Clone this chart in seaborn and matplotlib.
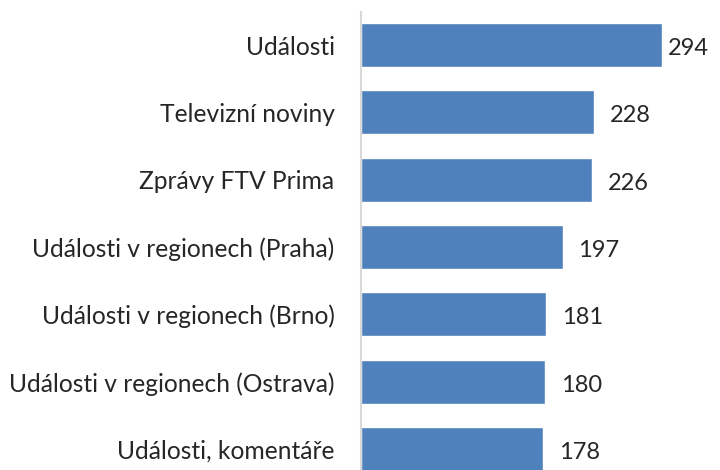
import matplotlib
matplotlib.use("Agg")
import matplotlib.pyplot as plt
import seaborn as sns
import pandas as pd

categories = ["Události", "Televizní noviny", "Zprávy FTV Prima",
              "Události v regionech (Praha)", "Události v regionech (Brno)",
              "Události v regionech (Ostrava)", "Události, komentáře"]
values = [294, 228, 226, 197, 181, 180, 178]

sns.set_style("white")
plt.rcParams["font.family"] = ["Lato", "DejaVu Sans"]

df = pd.DataFrame({"porad": categories, "pocet": values})

fig = plt.figure(figsize=(7.2, 4.7), dpi=100)
ax = fig.add_axes([361 / 720, 0, 359 / 720, 458 / 470])
sns.barplot(data=df, y="porad", x="pocet", color="#4F81BD", saturation=1,
            width=0.655, ax=ax)

# prvni popisek je v originale posunuty bliz ke sloupci (nevejde se)
bars = ax.containers[0]
first = [str(v) if i == 0 else "" for i, v in enumerate(values)]
rest = ["" if i == 0 else str(v) for i, v in enumerate(values)]
texts = ax.bar_label(bars, labels=first, padding=4, fontsize=17)
texts += ax.bar_label(bars, labels=rest, padding=11, fontsize=17)
for t in texts:
    t.xyann = (t.xyann[0], -2.5)

ax.set_xlim(0, 350.6)
ax.set_ylim(6.31, -0.49)
ax.set_xlabel("")
ax.set_ylabel("")
ax.set_xticks([])
ax.tick_params(axis="y", length=0, pad=19, labelsize=17.7)
for s in ["top", "right", "bottom"]:
    ax.spines[s].set_visible(False)
ax.spines["left"].set_color("#D9D9D9")
ax.spines["left"].set_linewidth(1.5)

fig.savefig("out.png", dpi=100)
